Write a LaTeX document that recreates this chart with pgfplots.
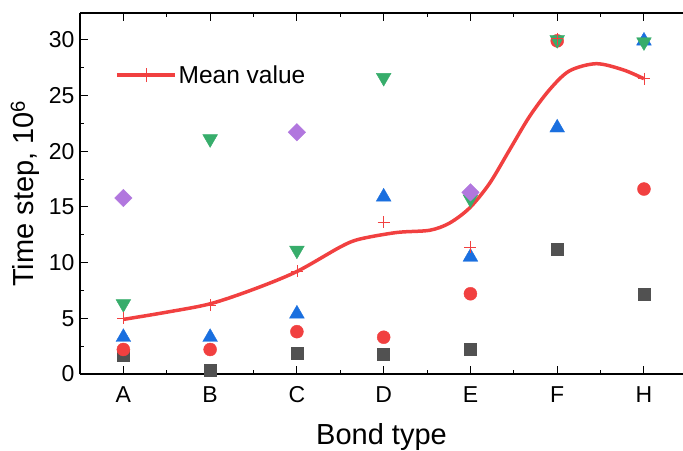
\documentclass[border=0pt]{standalone}
\usepackage{pgfplots}
\pgfplotsset{compat=1.18}
\usepackage{fontspec}
\setmainfont{Liberation Sans}
\definecolor{cgray}{HTML}{515151}
\definecolor{cred}{HTML}{F14040}
\definecolor{cblue}{HTML}{1A6FDF}
\definecolor{cgreen}{HTML}{37AD6B}
\definecolor{cpurple}{HTML}{B177DE}
\begin{document}
\begin{tikzpicture}
\begin{axis}[
  name=ax,
  scale only axis,
  width=603pt, height=361pt,
  xmin=0.5, xmax=7.45,
  ymin=0, ymax=32.4,
  axis x line*=box, axis y line*=left,
  xtick={1,2,3,4,5,6,7},
  xticklabels={A,B,C,D,E,F,H},
  minor x tick num=1,
  ytick={0,5,10,15,20,25,30},
  minor y tick num=1,
  tick align=inside,
  major tick length=8pt, minor tick length=4.5pt,
  tick style={black, line width=1pt},
  axis line style={black, line width=1.3pt},
  /pgf/number format/assume math mode=true,
  tick label style={font=\fontsize{23}{26}\selectfont},
  xticklabel style={yshift=-9pt},
  yticklabel style={xshift=-2pt},
  label style={font=\fontsize{29}{33}\selectfont},
  xlabel style={yshift=-14pt},
  ylabel style={yshift=2pt},
  xlabel={Bond type},
  ylabel={Time step, 10\textsuperscript{6}},
  legend style={at={(0.053,0.828)}, anchor=west, draw=none, fill=none,
    font=\fontsize{24.5}{28}\selectfont},
  legend cell align=left,
]
\addplot[only marks, mark=square*, mark size=6pt, color=cgray, forget plot]
  coordinates {(1,1.7)(2,0.35)(3,1.9)(4,1.8)(5,2.2)(6,11.2)(7,7.2)};
\addplot[only marks, mark=*, mark size=6.5pt, color=cred, forget plot]
  coordinates {(1,2.2)(2,2.2)(3,3.8)(4,3.3)(5,7.2)(6,29.9)(7,16.6)};
\addplot[only marks, mark=triangle*, mark size=8.5pt, color=cblue, forget plot]
  coordinates {(1,3.3)(2,3.3)(3,5.4)(4,15.9)(5,10.5)(6,22.1)(7,29.9)};
\addplot[only marks, mark=triangle*, mark size=8.5pt, mark options={rotate=180}, color=cgreen, forget plot]
  coordinates {(1,6.3)(2,21.1)(3,11.1)(4,26.6)(5,15.7)(6,30.0)(7,29.8)};
\addplot[only marks, mark=square*, mark size=6.2pt, mark options={rotate=45}, color=cpurple, forget plot]
  coordinates {(1,15.8)(3,21.7)(5,16.3)};
\addplot[only marks, mark=+, mark size=6pt, color=cred, line width=0.7pt, forget plot]
  coordinates {(1,5.0)(2,6.2)(3,9.2)(4,13.6)(5,11.4)(6,30.1)(7,26.5)};
\addplot[color=cred, line width=3.5pt, smooth, tension=0.5,
  legend image code/.code={
    \draw[cred, line width=3.5pt] (0pt,0pt) -- (58pt,0pt);
    \draw[cred, line width=0.7pt] (29pt,-7pt) -- (29pt,7pt) (23pt,0pt) -- (35pt,0pt);
  }]
  coordinates {(1,4.9)(1.5,5.55)(2,6.3)(2.5,7.6)(3,9.2)(3.5,11.4)(3.72,12.1)(4.15,12.7)(4.53,12.9)(4.76,13.55)(4.99,14.9)(5.22,17.1)(5.45,20.1)(5.68,23.1)(5.91,25.5)(6.14,27.2)(6.45,27.85)(6.76,27.3)(7,26.5)};
\addlegendentry{Mean value}
\end{axis}
\pgfresetboundingbox
\path ([xshift=-80pt,yshift=-76pt]ax.south west) rectangle ([yshift=13pt]ax.north east);
\end{tikzpicture}
\end{document}
